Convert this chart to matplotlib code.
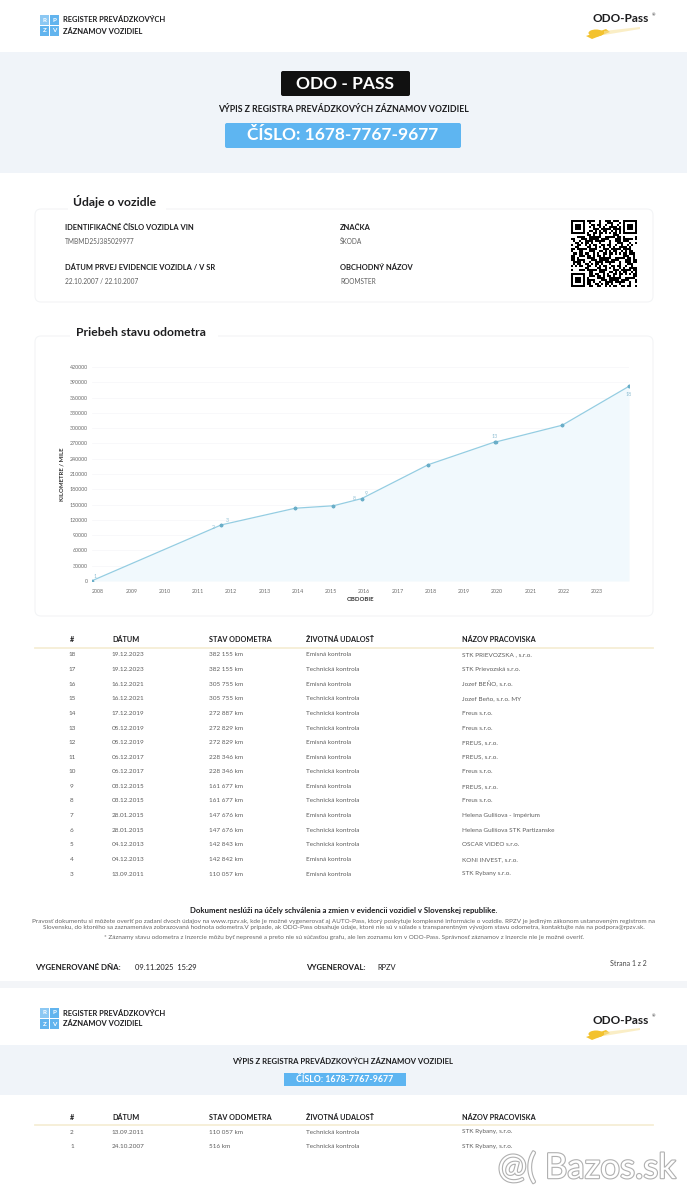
import matplotlib
matplotlib.use("Agg")
import matplotlib.pyplot as plt
import matplotlib.patheffects as pe
import numpy as np
from matplotlib.patches import Rectangle, FancyBboxPatch, Ellipse, Polygon
from datetime import datetime

plt.rcParams['font.family'] = ['Lato', 'DejaVu Sans']

#############################
########### DATA ############
#############################

record_nums = [18, 17, 16, 15, 14, 13, 12, 11, 10, 9, 8, 7, 6, 5, 4, 3, 2, 1]
record_dates = ['19.12.2023', '19.12.2023', '16.12.2021', '16.12.2021', '17.12.2019',
                '05.12.2019', '05.12.2019', '06.12.2017', '06.12.2017', '03.12.2015',
                '03.12.2015', '28.01.2015', '28.01.2015', '04.12.2013', '04.12.2013',
                '13.09.2011', '13.09.2011', '24.10.2007']
record_km = [382155, 382155, 305755, 305755, 272887, 272829, 272829, 228346, 228346,
             161677, 161677, 147676, 147676, 142843, 142842, 110057, 110057, 516]
record_events = ['Emisná kontrola', 'Technická kontrola', 'Emisná kontrola', 'Technická kontrola',
                 'Technická kontrola', 'Technická kontrola', 'Emisná kontrola', 'Emisná kontrola',
                 'Technická kontrola', 'Emisná kontrola', 'Technická kontrola', 'Emisná kontrola',
                 'Technická kontrola', 'Technická kontrola', 'Emisná kontrola', 'Emisná kontrola',
                 'Technická kontrola', 'Technická kontrola']
record_places = ['STK PRIEVOZSKA , s.r.o.', 'STK Prievozská s.r.o.', 'Jozef BEŇO, s.r.o.',
                 'Jozef Beňo, s.r.o. MY', 'Freus s.r.o.', 'Freus s.r.o.', 'FREUS, s.r.o.',
                 'FREUS, s.r.o.', 'Freus s.r.o.', 'FREUS, s.r.o.', 'Freus s.r.o.',
                 'Helena Gulišova - Impérium', 'Helena Gulišova STK Partizanske', 'OSCAR VIDEO s.r.o.',
                 'KONI INVEST, s.r.o.', 'STK Rybany s.r.o.', 'STK Rybany, s.r.o.', 'STK Rybany, s.r.o.']

# which records get a number next to their point in the chart
labelled_nums = [1, 2, 3, 8, 9, 13, 18]
year_ticks = list(range(2008, 2024))
km_ticks = list(range(0, 420001, 30000))

table_headers = ['#', 'DÁTUM', 'STAV ODOMETRA', 'ŽIVOTNÁ UDALOSŤ', 'NÁZOV PRACOVISKA']

vin = 'TMBMD25J385029977'
doc_number = '1678-7767-9677'

#############################
######### CONSTANTS #########
#############################

W, H = 687, 1200
DARK = '#1d1d1f'
GREY = '#5d5d5d'
BAND = '#f0f4f9'
BLUE = '#5eb5f1'
LINE = '#94cde2'
CARD_EDGE = '#f3f4f6'

COL_X = [72, 112, 209, 306, 462]
LABEL_OFFSETS = {1: (2, 3), 2: (-6, -2), 3: (4, 3), 8: (-5, 0), 9: (3, 4), 13: (0, 4), 18: (0, -6)}


def to_year(s):
	d = datetime.strptime(s, '%d.%m.%Y')
	start = datetime(d.year, 1, 1)
	end = datetime(d.year + 1, 1, 1)
	return d.year + (d - start).total_seconds() / (end - start).total_seconds()


def fmt_km(v):
	return '{:,}'.format(v).replace(',', ' ') + ' km'


def rpzv_logo(ax, y0):
	letters = ['R', 'P', 'Z', 'V']
	for k, (dx, dy) in enumerate([(0, 0), (10, 0), (0, 11), (10, 11)]):
		ax.add_patch(Rectangle((40 + dx, y0 + dy), 9, 9.5, color='#62b4ee' if k != 0 else '#8cc8f3', lw=0))
		ax.text(44.5 + dx, y0 + dy + 5, letters[k], color='white', fontsize=4.5, fontweight='bold',
				ha='center', va='center')
	ax.text(63, y0 + 5, 'REGISTER PREVÁDZKOVÝCH', fontsize=5.4, fontweight='bold', color=DARK, va='center')
	ax.text(63, y0 + 16, 'ZÁZNAMOV VOZIDIEL', fontsize=5.4, fontweight='bold', color=DARK, va='center')


def odo_logo(ax, y0):
	ax.text(621, y0, 'ODO-Pass', fontsize=8.5, fontweight='bold', color=DARK, ha='center', va='center')
	ax.text(653, y0 - 4, '®', fontsize=3, color=DARK, ha='center', va='center')
	ax.add_patch(Ellipse((596, y0 + 14), 15, 7, color='#f3c22e', lw=0))
	ax.add_patch(Polygon([[586, y0 + 17], [606, y0 + 10], [610, y0 + 13], [592, y0 + 20]],
						 color='#f3c22e', lw=0))
	ax.add_patch(Polygon([[604, y0 + 12], [640, y0 + 8], [640, y0 + 10], [604, y0 + 16]],
						 color='#f8e3a0', alpha=0.6, lw=0))


def table(ax, y_head, rows):
	for x, h in zip(COL_X, table_headers):
		ax.text(x, y_head, h, fontsize=5.2, fontweight='bold', color=DARK, va='center',
				ha='center' if h == '#' else 'left')
	ax.plot([35, 653], [y_head + 8, y_head + 8], color='#f6eed5', lw=1.3)
	for r, i in enumerate(rows):
		y = y_head + 15 + r * 14.6
		vals = [str(record_nums[i]), record_dates[i], fmt_km(record_km[i]), record_events[i], record_places[i]]
		for c, (x, v) in enumerate(zip(COL_X, vals)):
			ax.text(x, y, v, fontsize=4.6, color=GREY, va='center', ha='center' if c == 0 else 'left')


#############################
########## FIGURE ###########
#############################

fig = plt.figure(figsize=(W / 100, H / 100), dpi=100)
fig.patch.set_facecolor('white')
page = fig.add_axes([0, 0, 1, 1])
page.set_xlim(0, W)
page.set_ylim(H, 0)
page.axis('off')

# ---------- page 1 header ----------
rpzv_logo(page, 15)
odo_logo(page, 19)
page.add_patch(Rectangle((0, 52), W, 121, color=BAND, lw=0))
page.add_patch(FancyBboxPatch((282, 72), 127, 23, boxstyle='round,pad=1,rounding_size=2', color='#111111', lw=0))
page.text(345.5, 84, 'ODO - PASS', fontsize=12.5, fontweight='bold', color='white', ha='center', va='center')
page.text(343, 110, 'VÝPIS Z REGISTRA PREVÁDZKOVÝCH ZÁZNAMOV VOZIDIEL', fontsize=6.3, fontweight='bold',
		  color=DARK, ha='center', va='center')
page.add_patch(FancyBboxPatch((226, 124), 234, 23, boxstyle='round,pad=1,rounding_size=2', color=BLUE, lw=0))
page.text(343, 135.5, 'ČÍSLO: ' + doc_number, fontsize=12.5, fontweight='bold', color='white',
		  ha='center', va='center')

# ---------- vehicle card ----------
page.add_patch(FancyBboxPatch((35, 209), 618, 93, boxstyle='round,pad=0,rounding_size=6',
							  fc='white', ec=CARD_EDGE, lw=0.8))
page.add_patch(Rectangle((68, 196), 98, 14, color='white', lw=0))
page.text(73, 202, 'Údaje o vozidle', fontsize=8.7, fontweight='bold', color=DARK, va='center')
page.text(65, 227, 'IDENTIFIKAČNÉ ČÍSLO VOZIDLA VIN', fontsize=5.4, fontweight='bold', color=DARK, va='center')
page.text(65, 241, vin, fontsize=4.7, color=GREY, va='center')
page.text(65, 268, 'DÁTUM PRVEJ EVIDENCIE VOZIDLA / V SR', fontsize=5.4, fontweight='bold', color=DARK, va='center')
page.text(65, 282, '22.10.2007 / 22.10.2007', fontsize=4.7, color=GREY, va='center')
page.text(340, 227, 'ZNAČKA', fontsize=5.4, fontweight='bold', color=DARK, va='center')
page.text(340, 241, 'ŠKODA', fontsize=4.7, color=GREY, va='center')
page.text(340, 268, 'OBCHODNÝ NÁZOV', fontsize=5.4, fontweight='bold', color=DARK, va='center')
page.text(340, 282, 'ROOMSTER', fontsize=4.7, color=GREY, va='center')

# QR code (pattern derived from the VIN characters)
n = 33
qr = np.zeros((n, n))
for i in range(n):
	for j in range(n):
		qr[i, j] = (ord(vin[(i * 7 + j * 3) % len(vin)]) >> ((i * j + i + j) % 5)) & 1
for (r0, c0) in [(0, 0), (0, n - 7), (n - 7, 0)]:
	qr[max(r0 - 1, 0):r0 + 8, max(c0 - 1, 0):c0 + 8] = 0
	qr[r0:r0 + 7, c0:c0 + 7] = 1
	qr[r0 + 1:r0 + 6, c0 + 1:c0 + 6] = 0
	qr[r0 + 2:r0 + 5, c0 + 2:c0 + 5] = 1
page.imshow(1 - qr, cmap='gray', extent=(571, 637, 287, 220), interpolation='nearest', aspect='auto', zorder=3)

# ---------- chart card ----------
page.add_patch(FancyBboxPatch((35, 336), 618, 280, boxstyle='round,pad=0,rounding_size=6',
							  fc='white', ec=CARD_EDGE, lw=0.8))
page.add_patch(Rectangle((70, 326), 148, 14, color='white', lw=0))
page.text(76, 333, 'Priebeh stavu odometra', fontsize=8.7, fontweight='bold', color=DARK, va='center')

# sort by date, records with the same date: lower number first
pairs = sorted(zip([to_year(d) for d in record_dates], record_nums, record_km), key=lambda t: (t[0], t[1]))
xs = np.array([p[0] for p in pairs])
nums = [p[1] for p in pairs]
ys = np.array([p[2] for p in pairs])

x0, x1 = 92 / W, 629 / W
y_bot, y_top = 581, 367
ax = fig.add_axes([x0, (H - y_bot) / H, x1 - x0, (y_bot - y_top) / H])
ax.set_facecolor('none')
ax.fill_between(xs, ys, 0, color='#f1f9fd', lw=0)
ax.plot(xs, ys, color=LINE, lw=0.9, marker='o', markersize=1.6, markerfacecolor='#6aaec8',
		markeredgecolor='#6aaec8')
for x, y, num in zip(xs, ys, nums):
	if num in labelled_nums:
		ax.annotate(str(num), (x, y), xytext=LABEL_OFFSETS[num], textcoords='offset points',
					fontsize=3.8, color='#8fbfd3', ha='center', va='center')
ax.set_xlim(xs.min(), xs.max())
ax.set_ylim(0, 420000)
ax.set_yticks(km_ticks)
ax.set_yticklabels([str(v) for v in km_ticks])
ax.set_xticks(year_ticks)
ax.set_xticklabels([str(v) for v in year_ticks])
ax.tick_params(length=0, labelsize=3.8, labelcolor='#6b6b6b')
ax.tick_params(axis='y', pad=3)
ax.tick_params(axis='x', pad=6)
ax.grid(axis='y', color='#f5f6f8', lw=0.5)
ax.set_axisbelow(True)
for s in ax.spines.values():
	s.set_visible(False)
ax.set_ylabel('KILOMETRE / MILE', fontsize=4.3, fontweight='bold', color='#333333', labelpad=4)
ax.set_xlabel('OBDOBIE', fontsize=4.3, fontweight='bold', color='#333333', labelpad=2)

# ---------- table page 1 ----------
table(page, 640, range(0, 16))

# ---------- footer page 1 ----------
page.text(344, 910, 'Dokument neslúži na účely schválenia a zmien v evidencii vozidiel v Slovenskej republike.',
		  fontsize=5.6, fontweight='bold', color=DARK, ha='center', va='center')
small = ['Pravosť dokumentu si môžete overiť po zadaní dvoch údajov na www.rpzv.sk, kde je možné vygenerovať aj AUTO-Pass, ktorý poskytuje komplexné informácie o vozidle. RPZV je jediným zákonom ustanoveným registrom na',
		 'Slovensku, do ktorého sa zaznamenáva zobrazovaná hodnota odometra.V prípade, ak ODO-Pass obsahuje údaje, ktoré nie sú v súlade s transparentným vývojom stavu odometra, kontaktujte nás na podpora@rpzv.sk.',
		 '* Záznamy stavu odometra z inzercie môžu byť nepresné a preto nie sú súčasťou grafu, ale len zoznamu km v ODO-Pass. Správnosť záznamov z inzercie nie je možné overiť.']
for yy, t in zip([921, 928, 937], small):
	page.text(344, yy, t, fontsize=4.55, color='#666666', ha='center', va='center')
page.text(35, 968, 'VYGENEROVANÉ DŇA:', fontsize=5.7, fontweight='bold', color=DARK, va='center')
page.text(135, 968, '09.11.2025  15:29', fontsize=5.4, color=DARK, va='center')
page.text(306, 968, 'VYGENEROVAL:', fontsize=5.7, fontweight='bold', color=DARK, va='center')
page.text(377, 968, 'RPZV', fontsize=5.4, color=DARK, va='center')
page.text(647, 964, 'Strana 1 z 2', fontsize=5, color='#444444', ha='right', va='center')
page.add_patch(Rectangle((0, 981), W, 7, color='#f3f5f8', lw=0))

# ---------- page 2 ----------
rpzv_logo(page, 1008)
odo_logo(page, 1020)
page.add_patch(Rectangle((0, 1045), W, 50, color=BAND, lw=0))
page.text(343, 1062, 'VÝPIS Z REGISTRA PREVÁDZKOVÝCH ZÁZNAMOV VOZIDIEL', fontsize=5.6, fontweight='bold',
		  color=DARK, ha='center', va='center')
page.add_patch(Rectangle((284, 1073), 122, 13, color=BLUE, lw=0))
page.text(345, 1079.5, 'ČÍSLO: ' + doc_number, fontsize=6.3, fontweight='bold', color='white',
		  ha='center', va='center')
table(page, 1117, range(16, 18))

page.text(587, 1168, '@( Bazos.sk', fontsize=25, color='white', ha='center', va='center',
		  path_effects=[pe.withStroke(linewidth=1.6, foreground='#b0b0b0')])

fig.savefig('out.png', dpi=100)
